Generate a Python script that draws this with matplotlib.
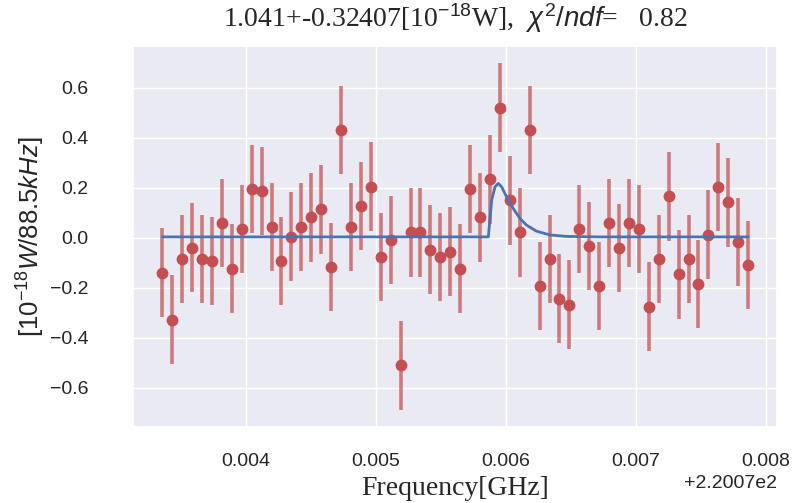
import matplotlib
matplotlib.use("Agg")
import matplotlib.pyplot as plt
import seaborn as sns
import numpy as np

sns.set_theme(style="darkgrid", color_codes=True)
plt.rcParams['font.family'] = ['Liberation Sans', 'DejaVu Sans']
plt.rcParams['mathtext.fontset'] = 'custom'
plt.rcParams['mathtext.rm'] = 'Liberation Sans'
plt.rcParams['mathtext.it'] = 'Liberation Sans:italic'

# Frequencies [GHz]
freq = [220.073356, 220.0734324, 220.0735088, 220.0735852, 220.0736616, 220.073738,
        220.0738144, 220.0738908, 220.0739672, 220.0740436, 220.07412, 220.0741964,
        220.0742728, 220.0743492, 220.0744256, 220.074502, 220.0745784, 220.0746548,
        220.0747312, 220.0748076, 220.074884, 220.0749604, 220.0750368, 220.0751132,
        220.0751896, 220.075266, 220.0753424, 220.0754188, 220.0754952, 220.0755716,
        220.075648, 220.0757244, 220.0758008, 220.0758772, 220.0759536, 220.07603,
        220.0761064, 220.0761828, 220.0762592, 220.0763356, 220.076412, 220.0764884,
        220.0765648, 220.0766412, 220.0767176, 220.076794, 220.0768704, 220.0769468,
        220.0770232, 220.0770996, 220.077176, 220.0772524, 220.0773288, 220.0774052,
        220.0774816, 220.077558, 220.0776344, 220.0777108, 220.0777872, 220.0778636]

power = [-0.139, -0.327, -0.084, -0.039, -0.084, -0.092, 0.059, -0.123, 0.036, 0.196,
         0.188, 0.044, -0.092, 0.005, 0.044, 0.082, 0.114, -0.116, 0.432, 0.043,
         0.128, 0.205, -0.077, -0.009, -0.510, 0.022, 0.022, -0.047, -0.077, -0.055,
         -0.123, 0.195, 0.082, 0.234, 0.521, 0.150, 0.022, 0.432, -0.192, -0.084,
         -0.243, -0.267, 0.036, -0.032, -0.192, 0.059, -0.040, 0.059, 0.036, -0.275,
         -0.084, 0.166, -0.146, -0.084, -0.184, 0.013, 0.203, 0.142, -0.017, -0.108]

power_err = [0.177] * 60

# Fitted signal curve
fit_freq = [220.073356, 220.0758644, 220.0758904, 220.0759157, 220.075941, 220.0759671,
            220.0760054, 220.0760559, 220.0761073, 220.0761586, 220.0762352, 220.0763372,
            220.0764651, 220.0767203, 220.0778636]
fit_power = [0.004, 0.004, 0.151, 0.204, 0.218, 0.204,
             0.164, 0.118, 0.078, 0.051, 0.027, 0.012,
             0.006, 0.004, 0.004]

fig = plt.figure(figsize=(7.99, 5.03), dpi=100)
ax = fig.add_axes([0.1665, 0.151, 0.8065, 0.7575])

ax.errorbar(freq, power, yerr=power_err, fmt='none', ecolor=(0.769, 0.306, 0.322, 0.72),
            elinewidth=2.6, zorder=2)
ax.plot(freq, power, 'o', color='r', markersize=7.5, zorder=2.5)
ax.plot(fit_freq, fit_power, color='b', lw=2.0, zorder=3)

ax.set_title(r"1.041+-0.32407[10$^{-18}$W],  $\chi^2/ndf$=   0.82",
             family=['Liberation Serif', 'DejaVu Serif'], fontsize=20, pad=14)
ax.set_xlabel("Frequency[GHz]", family=['Liberation Serif', 'DejaVu Serif'], fontsize=20,
              labelpad=4)
ax.set_ylabel(r"$[10^{-18}W/88.5kHz]$", fontsize=18.5, labelpad=2)
ax.tick_params(axis='both', labelsize=14)
ax.tick_params(axis='y', pad=26)
ax.tick_params(axis='x', pad=13)
ax.xaxis.get_offset_text().set_fontsize(14)

fig.savefig("out.png", dpi=100)
